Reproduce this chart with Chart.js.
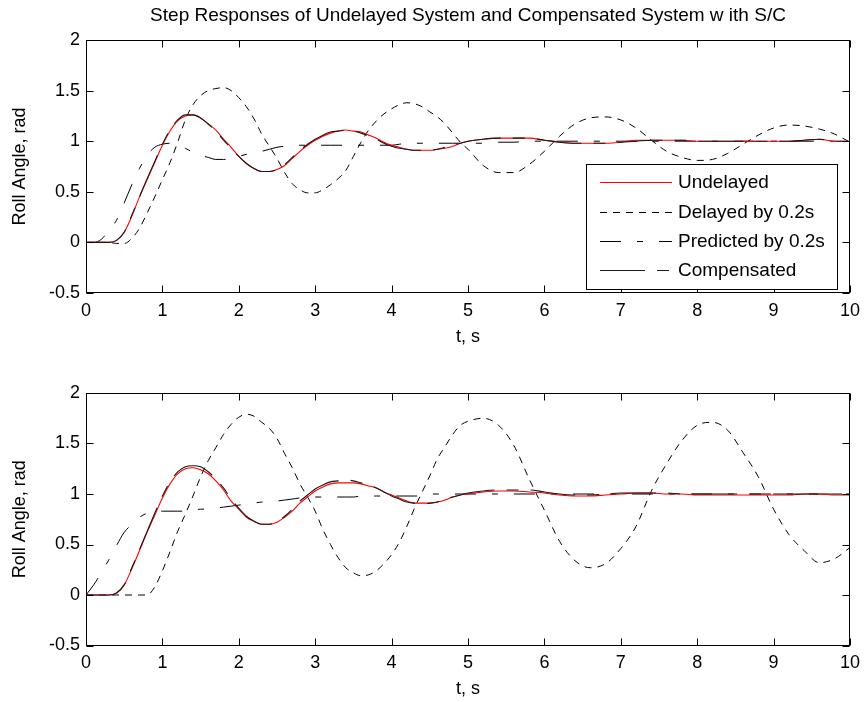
<!DOCTYPE html>
<html><head><meta charset="utf-8">
<script src="https://cdn.jsdelivr.net/npm/chart.js@4.4.1/dist/chart.umd.min.js"></script>
<style>
html,body{margin:0;padding:0;background:#fff;}
#wrap{position:relative;width:867px;height:702px;background:#fff;}
canvas{position:absolute;left:0;}
</style></head><body>
<div id="wrap">
<canvas id="c1" width="867" height="350" style="top:0;width:867px;height:350px"></canvas>
<canvas id="c2" width="867" height="352" style="top:350px;width:867px;height:352px"></canvas>
</div>
<script>
// ---- data ----
const chartTitle = 'Step Responses of Undelayed System and Compensated System w ith S/C';
const xLabel = 't, s';
const yLabel = 'Roll Angle, rad';
const seriesNames = ['Undelayed', 'Delayed by 0.2s', 'Predicted by 0.2s', 'Compensated'];
const xTicks = [0,1,2,3,4,5,6,7,8,9,10];
const yTicks = [-0.5,0,0.5,1,1.5,2];

const time = [0,0.1,0.2,0.3,0.4,0.5,0.6,0.7,0.8,0.9,1.0,1.1,1.2,1.3,1.4,1.5,1.6,1.7,1.8,1.9,
  2.0,2.1,2.2,2.3,2.4,2.5,2.6,2.7,2.8,2.9,3.0,3.1,3.2,3.3,3.4,3.5,3.6,3.7,3.8,3.9,
  4.0,4.1,4.2,4.3,4.4,4.5,4.6,4.7,4.8,4.9,5.0,
  5.2,5.4,5.6,5.8,6.0,6.2,6.4,6.6,6.8,7.0,7.2,7.4,7.6,7.8,8.0,8.2,8.4,8.6,8.8,9.0,9.2,9.4,9.6,9.8,10.0];

// upper plot
const topUndelayed = [0,0,0,0,0.02,0.10,0.26,0.45,0.62,0.79,0.96,1.10,1.20,1.25,1.26,1.23,1.17,1.11,1.02,0.94,
  0.85,0.78,0.73,0.70,0.70,0.72,0.76,0.83,0.90,0.96,1.01,1.05,1.08,1.10,1.11,1.10,1.09,1.06,1.03,0.99,
  0.96,0.94,0.92,0.91,0.91,0.91,0.92,0.93,0.95,0.98,1.00,
  1.02,1.03,1.03,1.03,1.01,0.99,0.98,0.98,0.98,0.99,1.01,1.01,1.01,1.01,1.00,1.00,1.00,1.00,1.00,1.00,1.00,1.01,1.02,1.00,1.00];
const topDelayed = [0,0,0,0,-0.01,-0.01,0.04,0.14,0.29,0.45,0.62,0.79,0.99,1.21,1.36,1.45,1.50,1.52,1.53,1.50,
  1.43,1.34,1.22,1.07,0.95,0.83,0.69,0.58,0.52,0.49,0.49,0.52,0.57,0.63,0.71,0.85,0.99,1.11,1.20,1.27,
  1.32,1.36,1.38,1.37,1.34,1.29,1.24,1.17,1.08,0.99,0.92,
  0.76,0.69,0.69,0.77,0.90,1.05,1.17,1.23,1.24,1.21,1.13,1.01,0.90,0.84,0.81,0.82,0.88,0.97,1.06,1.13,1.16,1.15,1.12,1.07,0.99];
const topPredicted = [0,0,0.03,0.12,0.22,0.39,0.57,0.73,0.86,0.94,0.97,0.98,0.96,0.93,0.89,0.86,0.84,0.82,0.82,0.83,
  0.85,0.87,0.88,0.90,0.92,0.94,0.95,0.96,0.96,0.96,0.96,0.96,0.96,0.96,0.96,0.96,0.96,0.96,0.96,0.96,
  0.96,0.97,0.98,0.98,0.98,0.98,0.98,0.98,0.98,0.98,0.98,
  0.98,0.99,0.99,1.00,1.00,1.00,1.00,1.00,1.00,1.00,1.00,1.00,1.00,1.00,1.00,1.00,1.00,1.00,1.00,1.00,1.00,1.00,1.00,1.00,1.00];
const topCompensated = [0,0,0,0,0.02,0.10,0.27,0.45,0.63,0.80,0.97,1.11,1.21,1.26,1.26,1.23,1.17,1.10,1.01,0.93,
  0.85,0.78,0.73,0.70,0.70,0.72,0.77,0.84,0.91,0.97,1.02,1.06,1.09,1.10,1.11,1.10,1.08,1.05,1.02,0.98,
  0.95,0.93,0.92,0.91,0.91,0.91,0.92,0.94,0.96,0.98,1.00,
  1.02,1.03,1.03,1.03,1.01,0.99,0.98,0.98,0.98,0.99,1.00,1.01,1.01,1.01,1.00,1.00,1.00,1.00,1.00,1.00,1.00,1.01,1.02,1.00,1.00];

// lower plot
const botUndelayed = [0,0,0,0,0.02,0.10,0.26,0.44,0.62,0.79,0.96,1.10,1.20,1.25,1.26,1.24,1.20,1.13,1.04,0.93,
  0.85,0.77,0.73,0.70,0.70,0.72,0.77,0.83,0.91,0.97,1.03,1.07,1.10,1.11,1.11,1.11,1.10,1.08,1.06,1.02,
  0.99,0.96,0.93,0.91,0.91,0.91,0.92,0.94,0.97,0.99,1.00,
  1.02,1.03,1.03,1.02,1.01,0.99,0.98,0.98,0.99,1.00,1.01,1.01,1.00,1.00,0.99,0.99,0.99,0.99,0.99,0.99,0.99,1.00,1.00,0.99,0.99];
const botDelayed = [0,0,0,0,0,0,0,0,0,0.08,0.24,0.43,0.63,0.80,0.98,1.17,1.33,1.46,1.59,1.69,
  1.76,1.79,1.77,1.71,1.65,1.55,1.40,1.26,1.10,0.97,0.83,0.65,0.50,0.37,0.27,0.22,0.19,0.20,0.24,0.31,
  0.40,0.52,0.68,0.86,1.02,1.18,1.35,1.47,1.59,1.68,1.72,
  1.75,1.68,1.48,1.15,0.84,0.53,0.34,0.27,0.31,0.46,0.68,1.03,1.30,1.53,1.68,1.71,1.63,1.41,1.17,0.85,0.60,0.44,0.32,0.36,0.47];
const botPredicted = [0,0.10,0.22,0.35,0.49,0.62,0.70,0.77,0.81,0.83,0.83,0.83,0.83,0.83,0.84,0.85,0.85,0.86,0.87,0.88,
  0.89,0.90,0.91,0.92,0.92,0.93,0.94,0.95,0.96,0.96,0.97,0.97,0.97,0.97,0.97,0.97,0.98,0.98,0.98,0.98,
  0.98,0.98,0.98,0.98,0.98,1.00,1.00,1.00,1.00,1.00,1.00,
  1.00,1.00,1.00,1.00,1.00,1.00,1.00,1.00,1.00,1.00,1.00,1.00,1.00,1.00,1.00,1.00,1.00,1.00,1.00,1.00,1.00,1.00,1.00,1.00,1.00];
const botCompensated = [0,0,0,0,0.02,0.10,0.27,0.45,0.63,0.81,0.98,1.12,1.22,1.27,1.28,1.27,1.22,1.15,1.06,0.95,
  0.86,0.78,0.73,0.70,0.70,0.73,0.78,0.85,0.93,0.99,1.05,1.09,1.12,1.13,1.14,1.13,1.11,1.09,1.06,1.02,
  0.98,0.95,0.92,0.91,0.90,0.91,0.92,0.95,0.97,0.99,1.01,
  1.03,1.04,1.04,1.04,1.02,1.00,0.99,0.99,1.00,1.01,1.01,1.01,1.01,1.00,1.00,1.00,1.00,1.00,1.00,1.00,1.00,1.00,1.00,1.00,1.00];

// ---- rendering ----
const FONT = '"Liberation Sans", Arial, Helvetica, sans-serif';
Chart.defaults.font.family = FONT;
Chart.defaults.color = '#000';

const styles = [
  {color:'#ff0000', dash:[], width:1.1, order:1},
  {color:'#000000', dash:[7,6], width:1, order:2},
  {color:'#000000', dash:[21,16,6,16], width:1, order:2},
  {color:'#1a1a1a', dash:[45,12,12,12], width:1.1, order:0}
];

function mkData(arrs){
  return {datasets: arrs.map((a,i)=>({
    label: seriesNames[i],
    data: time.map((t,k)=>({x:t, y:a[k]})),
    borderColor: styles[i].color,
    borderDash: styles[i].dash,
    borderWidth: styles[i].width,
    order: styles[i].order,
    pointRadius: 0,
    fill: false,
    cubicInterpolationMode: 'monotone'
  }))};
}

const axesBox = {
  id: 'axesBox',
  afterDatasetsDraw(chart){
    const {ctx, chartArea:a, scales:{x,y}} = chart;
    ctx.save();
    ctx.strokeStyle = '#000';
    ctx.lineWidth = 1;
    ctx.setLineDash([]);
    const L = Math.round(a.left)+0.5, R = Math.round(a.right)-0.5, T = Math.round(a.top)+0.5, B = Math.round(a.bottom)-0.5;
    ctx.beginPath();
    xTicks.forEach(v=>{
      const p = Math.round(x.getPixelForValue(v))+0.5;
      ctx.moveTo(p,B); ctx.lineTo(p,B-7);
      ctx.moveTo(p,T); ctx.lineTo(p,T+7);
    });
    yTicks.forEach(v=>{
      const p = Math.round(y.getPixelForValue(v))+0.5;
      ctx.moveTo(L,p); ctx.lineTo(L+7,p);
      ctx.moveTo(R,p); ctx.lineTo(R-7,p);
    });
    ctx.stroke();
    ctx.strokeRect(L,T,R-L,B-T);
    ctx.restore();
  }
};

const boxLegend = {
  id: 'boxLegend',
  afterDraw(chart){
    if (!chart.options.plugins.boxLegend || !chart.options.plugins.boxLegend.show) return;
    const ctx = chart.ctx;
    ctx.save();
    ctx.fillStyle = '#fff';
    ctx.fillRect(586,164,252,125);
    ctx.strokeStyle = '#000';
    ctx.lineWidth = 1;
    ctx.setLineDash([]);
    ctx.strokeRect(586.5,164.5,251,125);
    const ys = [182, 212, 241, 270];
    chart.data.datasets.forEach((ds,i)=>{
      const yy = ys[i]+0.5;
      ctx.strokeStyle = ds.borderColor;
      ctx.lineWidth = ds.borderWidth;
      ctx.setLineDash(ds.borderDash);
      ctx.beginPath(); ctx.moveTo(600,yy); ctx.lineTo(672,yy); ctx.stroke();
      ctx.setLineDash([]);
      ctx.fillStyle = '#000';
      ctx.font = '19px ' + FONT;
      ctx.textBaseline = 'middle';
      ctx.textAlign = 'left';
      ctx.fillText(ds.label, 678, ys[i]+1);
    });
    ctx.restore();
  }
};

function mkOptions(isTop, xH){
  return {
    responsive:false, animation:false, devicePixelRatio:1,
    layout:{padding:{left:0, right:14, top: isTop?0:43, bottom:0}},
    plugins:{
      legend:{display:false},
      tooltip:{enabled:false},
      title:{display:isTop, text:chartTitle, fullSize:false, color:'#000',
        font:{size:19, weight:'normal', family:FONT}, padding:{top:4, bottom:13.2}},
      boxLegend:{show:isTop}
    },
    scales:{
      x:{type:'linear', min:0, max:10,
        afterBuildTicks(s){ s.ticks = xTicks.map(v=>({value:v})); },
        afterFit(s){ s.height = xH; },
        grid:{display:false, drawTicks:false}, border:{display:false},
        ticks:{padding:7, maxRotation:0, autoSkip:false, font:{size:18}, color:'#000',
          callback:(v)=>String(v)},
        title:{display:true, text:xLabel, font:{size:18}, color:'#000', padding:{top:0,bottom:2.5}}
      },
      y:{type:'linear', min:-0.5, max:2,
        afterBuildTicks(s){ s.ticks = yTicks.map(v=>({value:v})); },
        afterFit(s){ s.width = 86; },
        grid:{display:false, drawTicks:false}, border:{display:false},
        ticks:{padding:6, autoSkip:false, font:{size:18}, color:'#000',
          callback:(v)=>String(v)},
        title:{display:true, text:yLabel, font:{size:18}, color:'#000', padding:{top:9,bottom:0}}
      }
    }
  };
}

new Chart(document.getElementById('c1'), {
  type:'line',
  data: mkData([topUndelayed, topDelayed, topPredicted, topCompensated]),
  options: mkOptions(true, 57),
  plugins:[axesBox, boxLegend]
});
new Chart(document.getElementById('c2'), {
  type:'line',
  data: mkData([botUndelayed, botDelayed, botPredicted, botCompensated]),
  options: mkOptions(false, 56.5),
  plugins:[axesBox, boxLegend]
});
</script>
</body></html>
